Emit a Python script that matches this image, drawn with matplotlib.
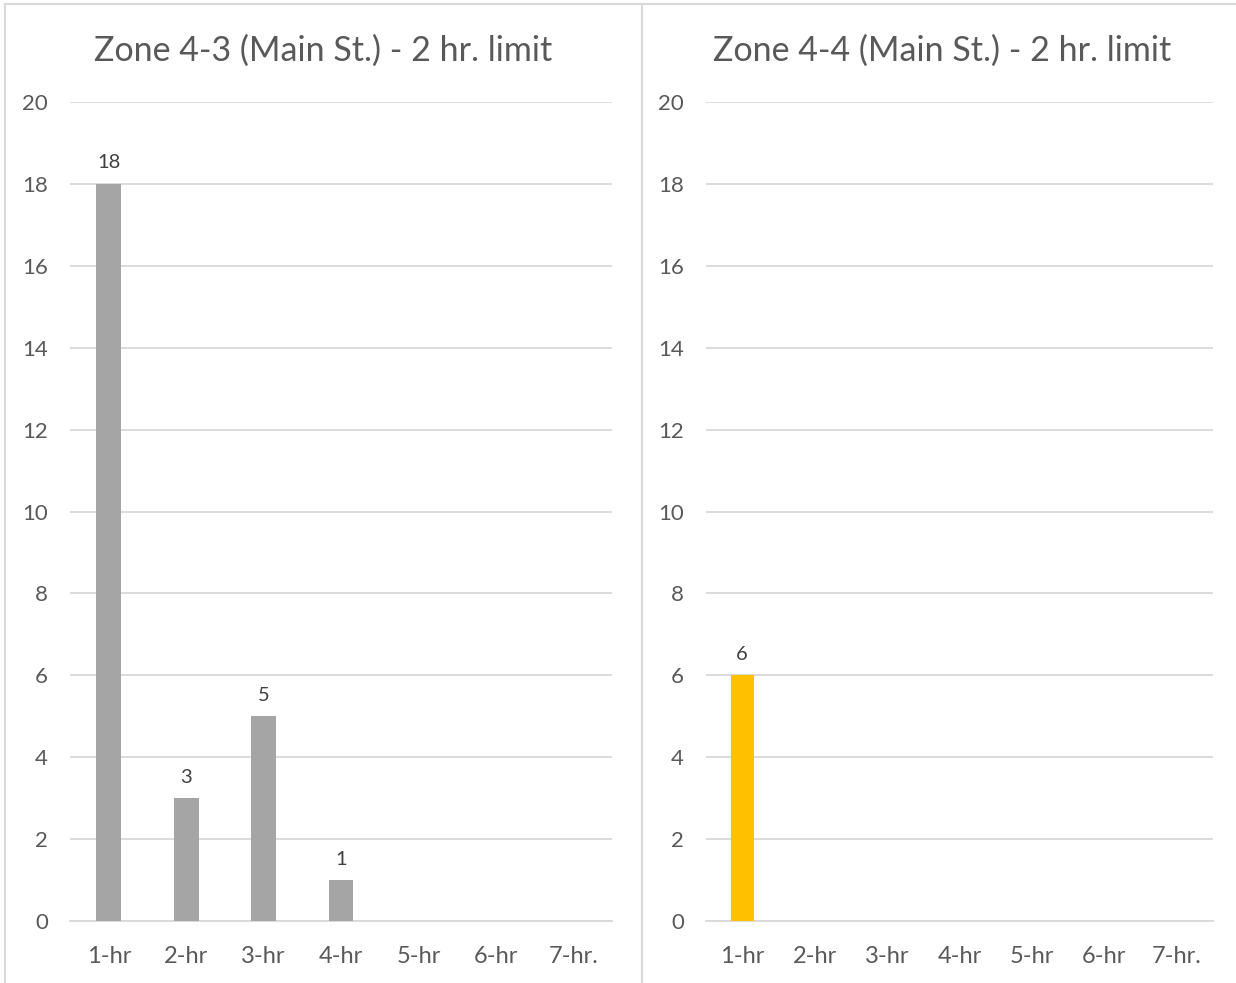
import matplotlib.pyplot as plt
from matplotlib.lines import Line2D

categories = ["1-hr", "2-hr", "3-hr", "4-hr", "5-hr", "6-hr", "7-hr."]
zone_43 = [18, 3, 5, 1, 0, 0, 0]
zone_44 = [6, 0, 0, 0, 0, 0, 0]
titles = ["Zone 4-3 (Main St.) - 2 hr. limit", "Zone 4-4 (Main St.) - 2 hr. limit"]
colors = ["#a5a5a5", "#ffc000"]

plt.rcParams["font.family"] = ["Lato", "DejaVu Sans"]
text_color = "#595959"
grid_color = "#d9d9d9"

W, H = 1236, 983
fig = plt.figure(figsize=(W / 100, H / 100), dpi=100)

# plot areas in pixel coordinates: (left, right, top, bottom), plus title centre x
areas = [(70, 612, 102, 921), (706, 1213, 102, 921)]
title_x = [323, 942]

for (l, r, t, b), tx, title, vals, col in zip(areas, title_x, titles, [zone_43, zone_44], colors):
    ax = fig.add_axes([l / W, 1 - b / H, (r - l) / W, (b - t) / H])
    x = range(len(categories))
    bars = ax.bar(x, vals, width=0.32, color=col, zorder=3)
    for rect, v in zip(bars, vals):
        if v > 0:
            ax.annotate(str(v), (rect.get_x() + rect.get_width() / 2, v),
                        xytext=(0, 9), textcoords="offset points",
                        ha="center", va="bottom", fontsize=14.5, color="#404040")
    ax.set_xlim(-0.5, len(categories) - 0.5)
    ax.set_ylim(0, 20)
    ax.set_yticks(range(0, 21, 2))
    ax.set_xticks(list(x))
    ax.set_xticklabels(categories)
    ax.yaxis.grid(True, color=grid_color, linewidth=1.3, zorder=0)
    for s in ["top", "right", "left"]:
        ax.spines[s].set_visible(False)
    ax.spines["bottom"].set_color(grid_color)
    ax.spines["bottom"].set_linewidth(1.3)
    ax.tick_params(length=0, colors=text_color)
    ax.tick_params(axis="y", pad=16, labelsize=16)
    ax.tick_params(axis="x", pad=18, labelsize=17)
    fig.text(tx / W, 1 - 51 / H, title, fontsize=24.5, color=text_color,
             ha="center", va="center")

# chart frames
border = "#d9d9d9"
fig.add_artist(Line2D([5 / W, 5 / W], [0, 1 - 4 / H], color=border, lw=1.5))
fig.add_artist(Line2D([5 / W, 1], [1 - 4 / H, 1 - 4 / H], color=border, lw=1.5))
fig.add_artist(Line2D([642 / W, 642 / W], [0, 1 - 4 / H], color=border, lw=1.5))

fig.savefig("out.png", dpi=100)
